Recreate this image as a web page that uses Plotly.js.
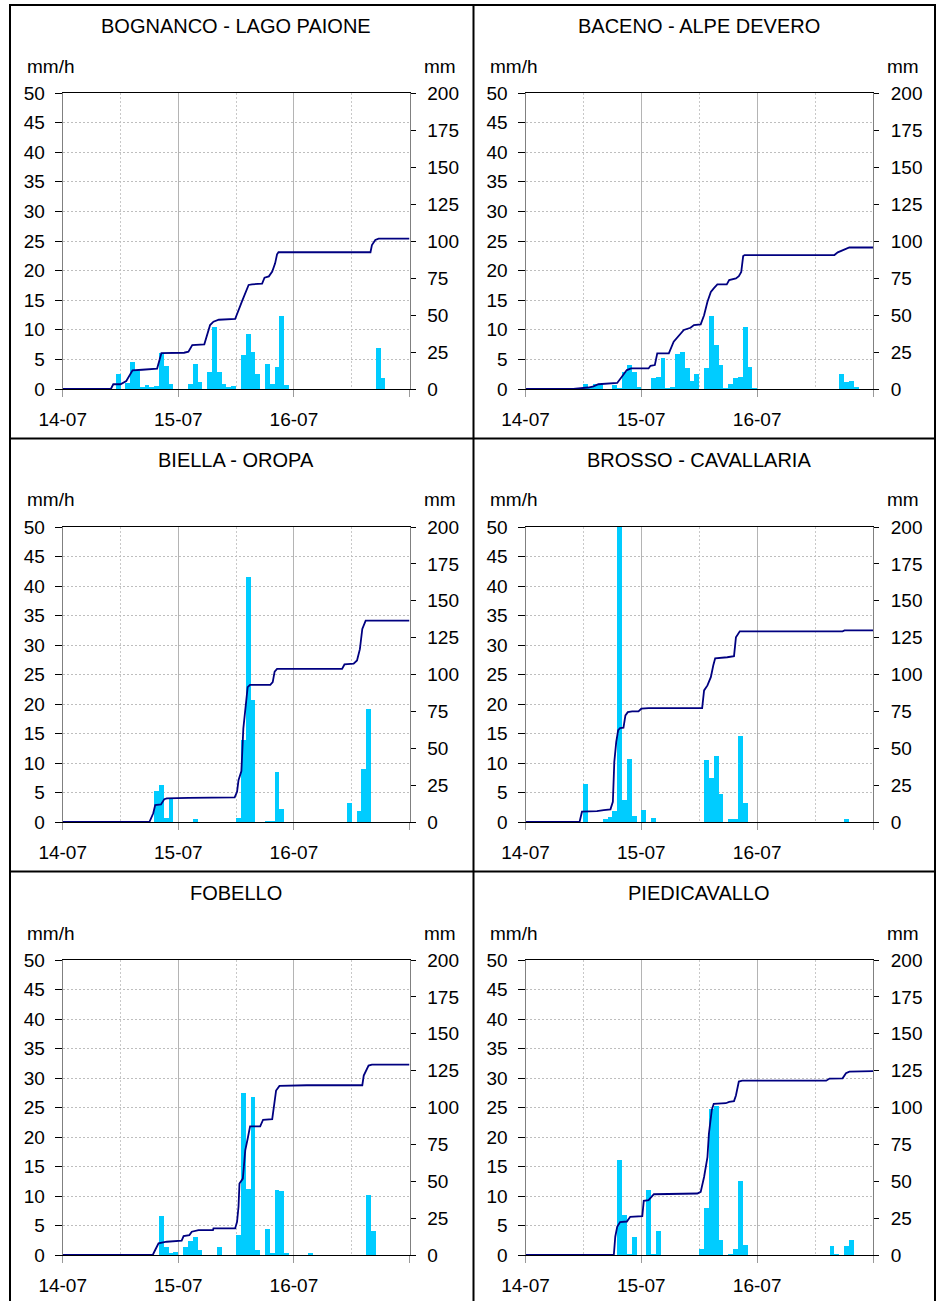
<!DOCTYPE html>
<html>
<head>
<meta charset="utf-8">
<script src="https://cdn.plot.ly/plotly-3.0.1.min.js"></script>
<style>
  html, body { margin: 0; padding: 0; background: #fff; }
  #chart { width: 939px; height: 1301px; }
</style>
</head>
<body>
<div id="chart"></div>
<script>
// Time axis: hours elapsed since 14-07 00:00 (three days shown)
const dayTickHours = [0, 24, 48, 72];
const dayTickLabels = ['14-07', '15-07', '16-07', ''];

// Station names, in grid order (row by row)
const stations = ['BOGNANCO - LAGO PAIONE', 'BACENO - ALPE DEVERO', 'BIELLA - OROPA',
                  'BROSSO - CAVALLARIA', 'FOBELLO', 'PIEDICAVALLO'];

// Hourly intensity (mm/h): start hour of each non-zero hour and its value
const bognancoHours = [11, 13, 14, 15, 16, 17, 18, 19, 20, 21, 22, 26, 27, 28, 30, 31, 32, 33, 34, 35, 37, 38, 39, 40, 42, 43, 44, 45, 46, 65, 66];
const bognancoRain  = [2.6, 1.0, 4.6, 3.1, 0.3, 0.6, 0.4, 0.5, 6.0, 3.9, 0.9, 0.9, 4.3, 1.2, 2.9, 10.5, 2.9, 0.9, 0.3, 0.5, 5.7, 9.3, 6.3, 2.6, 4.2, 0.9, 3.7, 12.4, 0.6, 7.0, 1.8];

const bacenoHours = [12, 13, 14, 15, 18, 19, 20, 21, 22, 23, 26, 27, 28, 29, 30, 31, 32, 33, 34, 35, 37, 38, 39, 40, 41, 42, 43, 44, 45, 46, 47, 65, 66, 67, 68];
const bacenoRain  = [0.9, 0.3, 0.9, 0.9, 0.6, 0.2, 2.95, 4.1, 2.9, 0.3, 1.9, 2.1, 5.3, 0.2, 0.3, 5.9, 6.2, 3.5, 1.3, 2.5, 3.6, 12.4, 7.4, 4.1, 0.2, 0.9, 1.9, 2.1, 10.4, 3.8, 0.2, 2.6, 1.15, 1.3, 0.4];

const biellaHours = [19, 20, 21, 22, 27, 36, 37, 38, 39, 42, 43, 44, 45, 59, 61, 62, 63];
const biellaRain  = [5.2, 6.25, 0.7, 4.0, 0.5, 0.7, 13.85, 41.6, 20.6, 0.2, 0.2, 8.45, 2.2, 3.26, 1.9, 8.95, 19.1];

const brossoHours = [12, 16, 17, 18, 19, 20, 21, 22, 24, 26, 37, 38, 39, 40, 42, 43, 44, 45, 66];
const brossoRain  = [6.5, 0.5, 0.9, 1.9, 50, 3.7, 10.75, 1.0, 2.0, 0.6, 10.5, 7.4, 11.2, 4.8, 0.5, 0.5, 14.6, 3.26, 0.5];

const fobelloHours = [20, 21, 22, 23, 25, 26, 27, 28, 32, 36, 37, 38, 39, 40, 42, 43, 44, 45, 46, 51, 63, 64];
const fobelloRain  = [6.6, 1.35, 0.3, 0.5, 1.35, 2.4, 3.0, 0.85, 1.35, 3.4, 27.5, 11.2, 26.7, 0.85, 4.4, 0.35, 11.0, 10.8, 0.35, 0.35, 10.1, 4.05];

const piedicavalloHours = [19, 20, 21, 22, 25, 26, 27, 36, 37, 38, 39, 40, 42, 43, 44, 45, 63, 64, 66, 67];
const piedicavalloRain  = [16.05, 6.75, 0.2, 3.05, 11.0, 0.2, 4.05, 1.0, 8.0, 24.7, 25.2, 2.5, 0.2, 1.0, 12.5, 1.7, 1.5, 0.2, 1.5, 2.5];

// Cumulative rainfall (mm): time (hours) and running total
const bognancoCumT = [0, 10, 10.5, 12, 13.2, 14.5, 16.5, 19.6, 20.2, 20.5, 25.2, 26.1, 26.9, 29.4, 30.6, 31.3, 32.4, 35.8, 37.2, 38.6, 39.3, 41.4, 41.9, 42.8, 43.5, 44.1, 44.5, 44.8, 63.9, 64.2, 64.9, 65.6, 72];
const bognancoCum  = [0, 0, 3.2, 3.2, 5.4, 12.6, 13.0, 13.8, 20.7, 24.3, 24.5, 25.2, 29.7, 30.2, 43.2, 45.5, 46.8, 47.3, 59, 70.3, 70.7, 71.2, 75.2, 76.1, 79.3, 84.9, 91, 92.4, 92.4, 97.3, 100.7, 101.6, 101.6];

const bacenoCumT = [0, 9.9, 13, 14.1, 15.1, 19, 20, 21, 21.9, 25.5, 25.9, 26.8, 27.3, 29.7, 30.7, 31.8, 32.8, 34.2, 34.9, 36.3, 37, 37.7, 38.4, 39, 39.75, 41.7, 42.2, 43.6, 44.2, 44.7, 45.1, 45.4, 64, 64.7, 66.1, 67.1, 72];
const bacenoCum  = [0, 0, 1.0, 1.8, 3.2, 4.1, 8.4, 12.8, 13.9, 13.9, 15.7, 16.2, 24.1, 24.1, 32, 36.5, 39.9, 41.4, 43.2, 43.7, 49.8, 58.9, 65.6, 68, 70.7, 70.7, 73.6, 74.7, 76.2, 79.1, 89.8, 90.5, 90.5, 92.3, 94.3, 95.6, 95.6];

const biellaCumT = [0, 18, 18.8, 19.2, 20.4, 21.1, 21.6, 26.1, 35.7, 36.2, 36.5, 37.1, 37.5, 38.1, 38.4, 38.9, 43.1, 43.6, 44, 44.5, 58, 58.5, 60.4, 61.1, 61.7, 62.2, 62.9, 72];
const biellaCum  = [0, 0, 5.9, 11.5, 11.9, 15.5, 16, 16.4, 16.7, 20.5, 28.4, 34.5, 63.3, 81.3, 91.4, 93, 93, 94.8, 102, 103.8, 103.8, 106.8, 107.3, 109.5, 117.2, 130.9, 136.5, 136.5];

const brossoCumT = [0, 11.2, 11.7, 14.8, 16.2, 17.6, 18.1, 18.4, 18.8, 19.2, 19.6, 20.3, 20.7, 21.2, 22.1, 23.4, 24, 25.5, 36.6, 37, 37.7, 38.4, 38.9, 39.3, 41.8, 43.2, 43.6, 44.4, 65.7, 66.1, 72];
const brossoCum  = [0, 0, 7.0, 7.4, 8.1, 8.6, 13.7, 40.8, 54.3, 62.2, 63.7, 63.9, 72.3, 74.5, 75, 75, 76.8, 77.2, 77.2, 89.2, 92.6, 98.2, 106.1, 111, 111.7, 112.4, 125.2, 129.3, 129.3, 129.9, 129.9];

const fobelloCumT = [0, 18.7, 19.2, 19.9, 21.6, 24.7, 25.1, 26.3, 26.8, 28.2, 31.2, 31.3, 35.8, 36.2, 36.5, 36.7, 37.4, 37.9, 38.4, 38.9, 41, 41.6, 43.5, 43.8, 44.3, 45, 50.7, 62.2, 62.5, 63.5, 64.2, 72];
const fobelloCum  = [0, 0, 3.4, 7.9, 9.0, 9.7, 12.8, 13.5, 15.8, 16.9, 16.9, 18, 18, 22.5, 32.7, 48.4, 51.8, 70.9, 78.8, 87.2, 87.2, 91.7, 92.1, 100.2, 111.5, 114.6, 115.1, 115.1, 121.6, 128.4, 129.1, 129.1];

const piedicavalloCumT = [0, 18.3, 18.6, 19, 19.6, 21, 21.7, 24.2, 24.5, 25.5, 26.6, 35.6, 36.3, 37, 37.7, 38, 38.6, 39, 41.5, 42.2, 43.2, 43.6, 44.2, 44.9, 62.3, 63, 65.7, 66.4, 67.1, 72];
const piedicavalloCum  = [0, 0, 12.4, 19.1, 22.3, 22.7, 25.9, 26.4, 36.7, 37.2, 41.2, 41.7, 42.8, 52.9, 66.4, 82.2, 98.4, 102.5, 102.9, 103.8, 104.3, 108.1, 117.6, 118.2, 118.2, 119.6, 119.8, 123.2, 124.3, 124.6];

const rainHours = [bognancoHours, bacenoHours, biellaHours, brossoHours, fobelloHours, piedicavalloHours];
const rainValues = [bognancoRain, bacenoRain, biellaRain, brossoRain, fobelloRain, piedicavalloRain];
const cumTimes = [bognancoCumT, bacenoCumT, biellaCumT, brossoCumT, fobelloCumT, piedicavalloCumT];
const cumValues = [bognancoCum, bacenoCum, biellaCum, brossoCum, fobelloCum, piedicavalloCum];

// ---- page geometry (pixels) ----
const W = 939, H = 1301;
const colLeft = [62.7, 525.5], colRight = [409.5, 873];
const rowTop = [93, 527, 960], rowBottom = [389, 822, 1255];
const px = v => v / W;
const py = v => 1 - v / H;

const FONT = 'Liberation Sans, Arial, Helvetica, sans-serif';
const TICK_SIZE = 19;
const BAR_COLOR = '#00CCFF';
const LINE_COLOR = '#000080';
const FINE_DOTS = '2px,2px';

const traces = [];
const layout = {
  width: W, height: H,
  margin: {l: 0, r: 0, t: 0, b: 0},
  paper_bgcolor: '#ffffff', plot_bgcolor: '#ffffff',
  showlegend: false,
  bargap: 0,
  barmode: 'overlay',
  font: {family: FONT, size: TICK_SIZE, color: '#000'},
  annotations: [],
  shapes: []
};

stations.forEach((name, i) => {
  const col = i % 2, row = Math.floor(i / 2);
  const n = i + 1;
  const xId = n === 1 ? 'x' : 'x' + n;
  const yL = 2 * n - 1, yR = 2 * n;
  const yLId = yL === 1 ? 'y' : 'y' + yL;
  const yRId = 'y' + yR;
  const xKey = n === 1 ? 'xaxis' : 'xaxis' + n;
  const yLKey = yL === 1 ? 'yaxis' : 'yaxis' + yL;
  const yRKey = 'yaxis' + yR;

  layout[xKey] = {
    domain: [px(colLeft[col]), px(colRight[col])],
    anchor: yLId,
    range: [0, 72],
    tickmode: 'array', tickvals: dayTickHours, ticktext: dayTickLabels,
    ticks: 'outside', ticklen: 7, tickcolor: '#9a9a9a', tickwidth: 1,
    ticklabelstandoff: 6,
    showline: true, linecolor: '#000', linewidth: 1, mirror: true,
    showgrid: true, gridcolor: '#b4b4b4', gridwidth: 1,
    minor: {tick0: 0, dtick: 12, showgrid: true, gridcolor: '#c8c8c8', griddash: FINE_DOTS, gridwidth: 1},
    zeroline: false, fixedrange: true,
    tickfont: {family: FONT, size: TICK_SIZE, color: '#000'}
  };
  layout[yLKey] = {
    domain: [py(rowBottom[row]), py(rowTop[row])],
    anchor: xId,
    range: [0, 50], tick0: 0, dtick: 5,
    ticks: 'outside', ticklen: 7, tickcolor: '#000', tickwidth: 1,
    ticklabelstandoff: 6,
    showline: true, linecolor: '#808080', linewidth: 1,
    showgrid: true, gridcolor: '#bebebe', griddash: FINE_DOTS, gridwidth: 1,
    zeroline: false, fixedrange: true,
    tickfont: {family: FONT, size: TICK_SIZE, color: '#000'}
  };
  layout[yRKey] = {
    overlaying: yLId, side: 'right', anchor: xId,
    range: [0, 200], tick0: 0, dtick: 25,
    ticks: 'outside', ticklen: 5, tickcolor: '#000', tickwidth: 1,
    ticklabelstandoff: 8,
    showline: true, linecolor: '#808080', linewidth: 1,
    showgrid: false, zeroline: false, fixedrange: true,
    tickfont: {family: FONT, size: TICK_SIZE, color: '#000'}
  };

  // hourly intensity bars, each spanning its hour
  traces.push({
    type: 'bar', x: rainHours[i], y: rainValues[i],
    width: 1, offset: 0,
    marker: {color: BAR_COLOR, line: {width: 0}},
    xaxis: xId, yaxis: yLId, hoverinfo: 'skip'
  });
  // cumulative rainfall line on the right-hand axis
  traces.push({
    type: 'scatter', mode: 'lines', x: cumTimes[i], y: cumValues[i],
    line: {color: LINE_COLOR, width: 1.8},
    xaxis: xId, yaxis: yRId, hoverinfo: 'skip'
  });

  const cx = (colLeft[col] + colRight[col]) / 2;
  layout.annotations.push({
    xref: 'paper', yref: 'paper', x: px(cx), y: py(rowTop[row] - 67),
    xanchor: 'center', yanchor: 'middle', showarrow: false,
    text: name, font: {family: FONT, size: 20, color: '#000'}
  });
  layout.annotations.push({
    xref: 'paper', yref: 'paper', x: px(colLeft[col] - 38), y: py(rowTop[row] - 27),
    xanchor: 'left', yanchor: 'middle', showarrow: false,
    text: 'mm/h', font: {family: FONT, size: TICK_SIZE, color: '#000'}
  });
  layout.annotations.push({
    xref: 'paper', yref: 'paper', x: px(colRight[col] + 48), y: py(rowTop[row] - 27),
    xanchor: 'right', yanchor: 'middle', showarrow: false,
    text: 'mm', font: {family: FONT, size: TICK_SIZE, color: '#000'}
  });
});

// panel frame lines
const frame = {type: 'line', xref: 'paper', yref: 'paper', line: {color: '#000', width: 2}};
[10, 473.5, 935].forEach(x => layout.shapes.push(Object.assign({}, frame, {x0: px(x), x1: px(x), y0: py(4), y1: 0})));
[5, 438.5, 871.5].forEach(y => layout.shapes.push(Object.assign({}, frame, {x0: px(9), x1: px(936), y0: py(y), y1: py(y)})));

Plotly.newPlot('chart', traces, layout, {staticPlot: true, displayModeBar: false});
</script>
</body>
</html>
